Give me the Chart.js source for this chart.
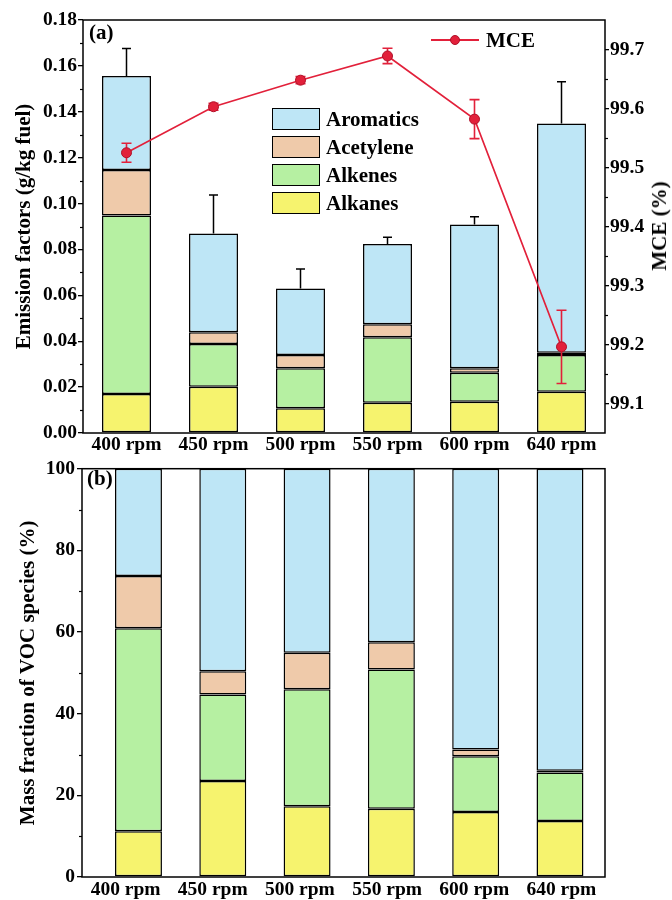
<!DOCTYPE html>
<html><head><meta charset="utf-8">
<script src="https://cdn.jsdelivr.net/npm/chart.js@4.4.1/dist/chart.umd.min.js"></script>
<style>
body{margin:0;background:#fff;}
#wrap{position:relative;width:672px;height:900px;font-family:"Liberation Serif","Times New Roman",serif;font-weight:bold;color:#000;overflow:hidden}
canvas{position:absolute;left:0}
.lab{position:absolute;font-size:21px;line-height:22px;white-space:nowrap}
.box{position:absolute;box-sizing:border-box;width:48px;height:22px;border:1.5px solid #000}
</style></head><body><div id="wrap">
<canvas id="c1" width="672" height="460" style="top:0"></canvas>
<canvas id="c2" width="672" height="445" style="top:455px"></canvas>
</div>
<script>
// ---------- data ----------
const categories = ["400 rpm", "450 rpm", "500 rpm", "550 rpm", "600 rpm", "640 rpm"];
const seriesNames = ["Alkanes", "Alkenes", "Acetylene", "Aromatics"];
const seriesColors = ["#f6f36e", "#b6f0a2", "#efcaaa", "#bee6f6"];

// (a) emission factors, g/kg fuel (stack components)
const efAlkanes   = [0.0170, 0.0202, 0.0108, 0.0132, 0.0136, 0.0180];
const efAlkenes   = [0.0778, 0.0186, 0.0174, 0.0285, 0.0127, 0.0160];
const efAcetylene = [0.0198, 0.0051, 0.0058, 0.0057, 0.0019, 0.0010];
const efAromatics = [0.0410, 0.0431, 0.0290, 0.0350, 0.0627, 0.0999];
const efError     = [0.0120, 0.0167, 0.0085, 0.0029, 0.0034, 0.0182];

// MCE (%)
const mceValues = [99.525, 99.603, 99.648, 99.689, 99.582, 99.196];
const mceError  = [0.016, 0.006, 0.006, 0.013, 0.033, 0.062];

// (b) mass fraction, %
const pctAlkanes   = [11.2, 23.5, 17.3, 16.7, 15.9, 13.7];
const pctAlkenes   = [49.7, 21.2, 28.7, 34.1, 13.7, 11.9];
const pctAcetylene = [12.8, 5.7, 8.9, 6.7, 1.6, 0.4];
const pctAromatics = [26.3, 49.6, 45.1, 42.5, 68.8, 74.0];

// tick labels
const efTicks  = [0.00, 0.02, 0.04, 0.06, 0.08, 0.10, 0.12, 0.14, 0.16, 0.18];
const efMinor  = [0.01, 0.03, 0.05, 0.07, 0.09, 0.11, 0.13, 0.15, 0.17];
const mceTicks = [99.1, 99.2, 99.3, 99.4, 99.5, 99.6, 99.7];
const mceMinor = [99.15, 99.25, 99.35, 99.45, 99.55, 99.65];
const pctTicks = [0, 20, 40, 60, 80, 100];
const pctMinor = [10, 30, 50, 70, 90];

// ---------- setup ----------
Chart.defaults.font.family = '"Liberation Serif","Times New Roman",serif';
Chart.defaults.font.weight = 'bold';
Chart.defaults.font.size = 19.5;
Chart.defaults.color = '#000';
Chart.defaults.animation = false;

const frame = {
  id: 'frame',
  afterDraw(chart) {
    const a = chart.chartArea, ctx = chart.ctx;
    ctx.save(); ctx.strokeStyle = '#000'; ctx.lineWidth = 1.5;
    ctx.strokeRect(a.left, a.top, a.right - a.left, a.bottom - a.top);
    ctx.restore();
  }
};
const minorTicks = {
  id: 'minorTicks',
  afterDraw(chart, args, opts) {
    const ctx = chart.ctx;
    (opts.list || []).forEach(({id, values, side}) => {
      const s = chart.scales[id];
      ctx.save(); ctx.strokeStyle = '#000'; ctx.lineWidth = 1.2;
      values.forEach(v => {
        const y = Math.round(s.getPixelForValue(v)) + 0.5;
        ctx.beginPath();
        if (side === 'left') { ctx.moveTo(s.right - 3, y); ctx.lineTo(s.right, y); }
        else { ctx.moveTo(s.left, y); ctx.lineTo(s.left + 3, y); }
        ctx.stroke();
      });
      ctx.restore();
    });
  }
};
const errBars = {
  id: 'errBars',
  beforeDatasetDraw(chart, args, opts) {
    if (!opts.line || args.index !== opts.line.index) return;
    const ctx = chart.ctx, s = chart.scales[opts.line.axis];
    ctx.save(); ctx.strokeStyle = '#e2203a'; ctx.lineWidth = 1.6;
    args.meta.data.forEach((pt, i) => {
      const v = chart.data.datasets[args.index].data[i];
      const y1 = s.getPixelForValue(v + opts.line.err[i]);
      const y2 = s.getPixelForValue(v - opts.line.err[i]);
      ctx.beginPath();
      ctx.moveTo(pt.x, y1); ctx.lineTo(pt.x, y2);
      ctx.moveTo(pt.x - 5, y1); ctx.lineTo(pt.x + 5, y1);
      ctx.moveTo(pt.x - 5, y2); ctx.lineTo(pt.x + 5, y2);
      ctx.stroke();
    });
    ctx.restore();
  },
  afterDatasetDraw(chart, args, opts) {
    if (!opts.bar || args.index !== opts.bar.index) return;
    const ctx = chart.ctx, s = chart.scales.y;
    ctx.save(); ctx.strokeStyle = '#000'; ctx.lineWidth = 1.5;
    args.meta.data.forEach((bar, i) => {
      const yTop = s.getPixelForValue(opts.bar.totals[i] + opts.bar.err[i]);
      ctx.beginPath();
      ctx.moveTo(bar.x, bar.y); ctx.lineTo(bar.x, yTop);
      ctx.moveTo(bar.x - 4.5, yTop); ctx.lineTo(bar.x + 4.5, yTop);
      ctx.stroke();
    });
    ctx.restore();
  }
};

// ---------- chart (a) ----------
const efSeries = [efAlkanes, efAlkenes, efAcetylene, efAromatics];
const efTotals = categories.map((c, i) => efSeries.reduce((s, a) => s + a[i], 0));
const barBase = {borderColor: '#000', borderWidth: 1.5, borderSkipped: false, order: 1, stack: 's',
                 barPercentage: 0.563, categoryPercentage: 1};

new Chart(document.getElementById('c1'), {
  type: 'bar',
  data: {
    labels: categories,
    datasets: [
      {type: 'line', label: 'MCE', data: mceValues, yAxisID: 'y2', order: 0,
       borderColor: '#e2203a', borderWidth: 1.6, pointRadius: 5, pointBackgroundColor: '#e2203a',
       pointBorderColor: '#b01028', pointBorderWidth: 1, tension: 0},
      ...efSeries.map((d, k) => Object.assign({label: seriesNames[k], data: d, backgroundColor: seriesColors[k], yAxisID: 'y'}, barBase))
    ]
  },
  options: {
    responsive: false,
    layout: {padding: {top: 20, left: 0, right: 0, bottom: 0}},
    plugins: {
      legend: {display: false}, tooltip: {enabled: false},
      minorTicks: {list: [{id: 'y', values: efMinor, side: 'left'}, {id: 'y2', values: mceMinor, side: 'right'}]},
      errBars: {line: {index: 0, axis: 'y2', err: mceError}, bar: {index: 4, totals: efTotals, err: efError}}
    },
    scales: {
      x: {type: 'category', offset: true, stacked: true,
          grid: {display: false, drawTicks: false}, border: {display: false},
          ticks: {padding: 0, maxRotation: 0},
          afterFit(s) { s.height = 27; }},
      y: {position: 'left', min: 0, max: 0.18, stacked: true,
          afterBuildTicks(s) { s.ticks = efTicks.map(v => ({value: v})); },
          ticks: {callback: v => Number(v).toFixed(2), padding: 1},
          grid: {drawOnChartArea: false, tickLength: 5, color: '#000', lineWidth: 1.3}, border: {display: false},
          title: {display: true, text: 'Emission factors (g/kg fuel)', font: {size: 21}, padding: {top: 12, bottom: 0}},
          afterFit(s) { s.width = 83; }},
      y2: {position: 'right', min: 99.05, max: 99.75,
          afterBuildTicks(s) { s.ticks = mceTicks.map(v => ({value: v})); },
          ticks: {callback: v => Number(v).toFixed(1), padding: 1},
          grid: {drawOnChartArea: false, tickLength: 4, color: '#000', lineWidth: 1.3}, border: {display: false},
          afterFit(s) { s.width = 67; }}
    }
  },
  plugins: [frame, minorTicks, errBars]
});

// ---------- chart (b) ----------
const pctSeries = [pctAlkanes, pctAlkenes, pctAcetylene, pctAromatics];
new Chart(document.getElementById('c2'), {
  type: 'bar',
  data: {
    labels: categories,
    datasets: pctSeries.map((d, k) => Object.assign({
      label: seriesNames[k], data: d.map((v, i) => ({x: i, y: v})), backgroundColor: seriesColors[k],
      xAxisID: 'xb', yAxisID: 'y'}, barBase, {barPercentage: 0.557}))
  },
  options: {
    responsive: false,
    layout: {padding: {top: 8, left: 0, right: 67, bottom: 0}},
    plugins: {
      legend: {display: false}, tooltip: {enabled: false},
      minorTicks: {list: [{id: 'y', values: pctMinor, side: 'left'}]}
    },
    scales: {
      x: {type: 'category', labels: categories, offset: true,
          grid: {display: false, drawTicks: false}, border: {display: false},
          ticks: {padding: 1, maxRotation: 0},
          afterFit(s) { s.height = 23; }},
      xb: {type: 'linear', display: false, offset: false, min: -0.67, max: 5.534, stacked: true,
           grid: {offset: false}},
      y: {position: 'left', min: 0, max: 100, stacked: true,
          afterBuildTicks(s) { s.ticks = pctTicks.map(v => ({value: v})); },
          ticks: {padding: 2},
          grid: {drawOnChartArea: false, tickLength: 5, color: '#000', lineWidth: 1.3}, border: {display: false},
          title: {display: true, text: 'Mass fraction of VOC species (%)', font: {size: 21}, padding: {top: 16, bottom: 0}},
          afterFit(s) { s.width = 82; }}
    }
  },
  plugins: [frame, minorTicks]
});

// ---------- overlay text & legends ----------
const wrap = document.getElementById('wrap');
function addDiv(cls, css, text) {
  const d = document.createElement('div');
  d.className = cls; d.style.cssText = css;
  if (text !== undefined) d.textContent = text;
  wrap.appendChild(d); return d;
}
addDiv('lab', 'left:89px;top:21px;', '(a)');
addDiv('lab', 'left:87px;top:467px;', '(b)');
addDiv('lab', 'left:659px;top:226px;transform:translate(-50%,-50%) rotate(-90deg);', 'MCE (%)');

// stacked legend (top row = last series)
const rowTops = [108, 136, 164, 192];
seriesNames.slice().reverse().forEach((name, r) => {
  const k = seriesNames.length - 1 - r;
  addDiv('box', `left:272px;top:${rowTops[r]}px;background:${seriesColors[k]};`);
  addDiv('lab', `left:326px;top:${rowTops[r]}px;`, name);
});
// MCE legend
addDiv('', 'position:absolute;left:431px;top:39px;width:48px;height:2px;background:#e2203a;');
addDiv('', 'position:absolute;left:450px;top:35px;width:10px;height:10px;border-radius:50%;background:#e2203a;box-sizing:border-box;border:1px solid #b01028;');
addDiv('lab', 'left:486px;top:29px;', 'MCE');
</script>
</body></html>
